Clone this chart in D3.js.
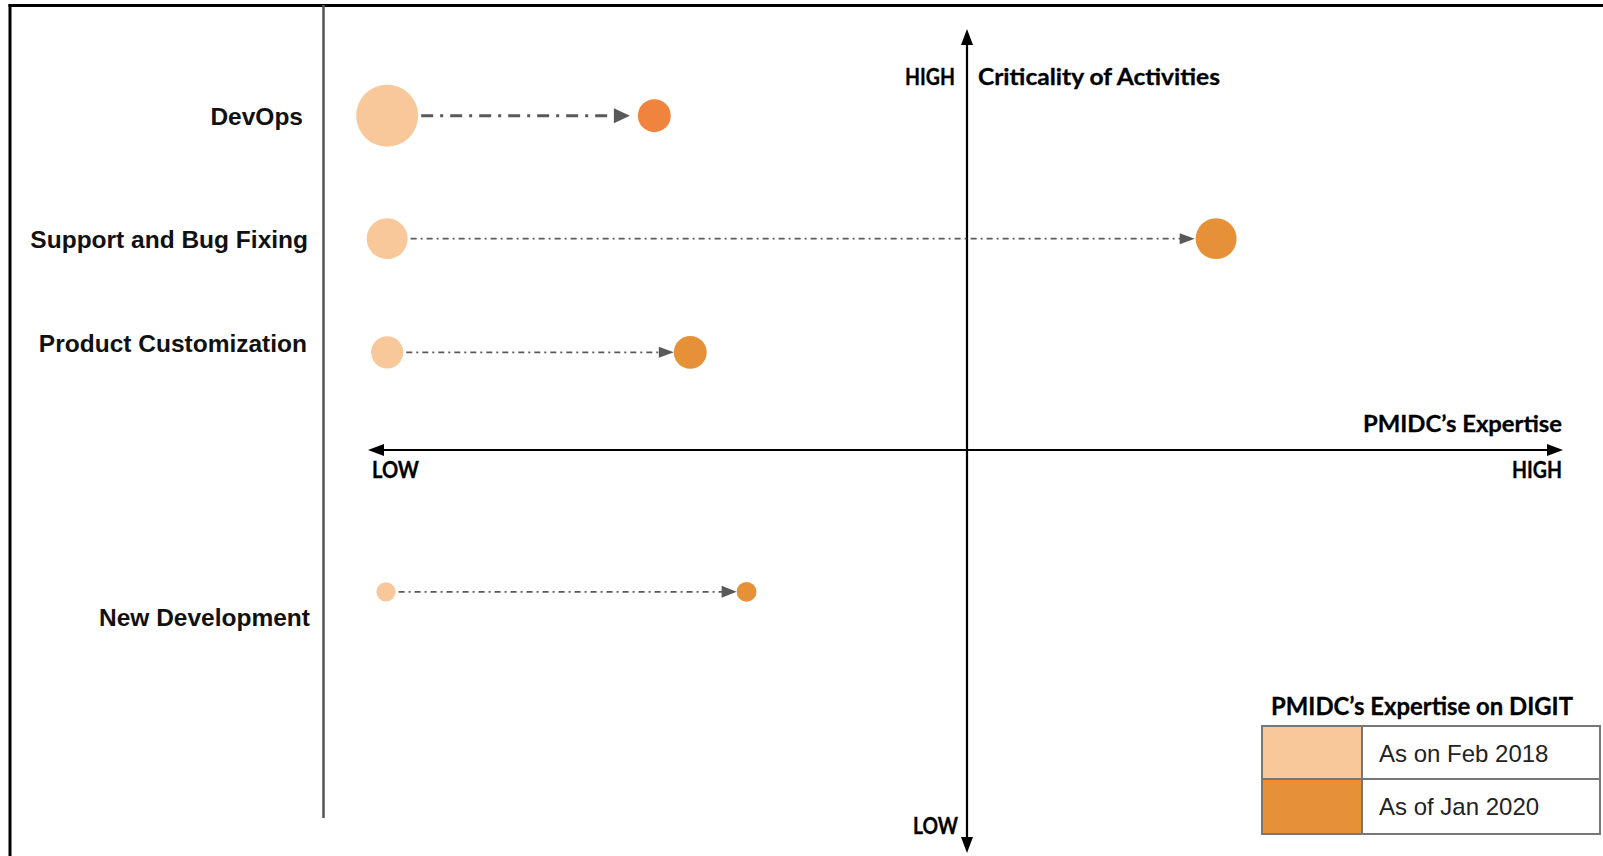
<!DOCTYPE html>
<html><head><meta charset="utf-8">
<script src="https://cdn.jsdelivr.net/npm/d3@7"></script>
<style>html,body{margin:0;padding:0;background:#fff;overflow:hidden}</style>
</head><body>
<svg id="chart" width="1603" height="856"></svg>
<script>
// ---- data ----
const categories = ["DevOps", "Support and Bug Fixing", "Product Customization", "New Development"];
const expertiseFeb2018 = [0.16, 0.16, 0.16, 0.15];
const expertiseJan2020 = [2.39, 7.09, 2.69, 3.16];
const criticality = [8.97, 7.51, 6.16, 3.24];
const sizeFeb2018 = [10, 6.6, 5.2, 3.1];
const sizeJan2020 = [5.3, 6.6, 5.3, 3.2];
const seriesNames = ["As on Feb 2018", "As of Jan 2020"];
const xEndLabels = ["LOW", "HIGH"];
const yEndLabels = ["LOW", "HIGH"];
const xTitle = "PMIDC\u2019s Expertise";
const yTitle = "Criticality of Activities";
const legendTitle = "PMIDC\u2019s Expertise on DIGIT";

// ---- styles / layout ----
const lightColor = "#F8C89A";
const darkColors = ["#F0843F", "#E69138", "#E69138", "#E69138"];
const legendDark = "#E69138";
const labelDy = [9, 9, 0, 34];
const labelRight = [303, 308, 307, 310];
const arrowGapEnd = [8, 1, 0, 0];
const lineWidths = [3, 1.6, 1.6, 1.6];
const dashes = ["12,7,3,7", "6,4,2,4", "6,4,2,4", "6,4,2,4"];
const headLen = [16, 15, 15, 15];
const headHalf = [7.5, 5.5, 5.5, 6];

const svg = d3.select("#chart");
const x = d3.scaleLinear().domain([0, 5, 10]).range([368, 967, 1563]);
const y = d3.scaleLinear().domain([0, 5, 10]).range([853, 450, 29]);
const r = d3.scaleLinear().domain([0, 10]).range([0, 31]);

// frame
svg.append("line").attr("x1", 8.5).attr("x2", 1603).attr("y1", 5.5).attr("y2", 5.5)
  .attr("stroke", "#000").attr("stroke-width", 3);
svg.append("line").attr("x1", 10).attr("x2", 10).attr("y1", 4).attr("y2", 856)
  .attr("stroke", "#000").attr("stroke-width", 3);
// separator
svg.append("line").attr("x1", 323.5).attr("x2", 323.5).attr("y1", 5).attr("y2", 818)
  .attr("stroke", "#555").attr("stroke-width", 2.5);

// axes
const ax = x(5), ay = y(5);
const aLen = 16, aHalf = 6;
const axG = svg.append("g");
axG.append("line").attr("x1", x(0) + aLen - 2).attr("x2", x(10) - aLen + 2).attr("y1", ay).attr("y2", ay)
  .attr("stroke", "#000").attr("stroke-width", 2.2);
axG.append("line").attr("x1", ax).attr("x2", ax).attr("y1", y(10) + aLen - 2).attr("y2", y(0) - aLen + 2)
  .attr("stroke", "#000").attr("stroke-width", 2.2);
const tri = (pts) => axG.append("polygon").attr("points", pts.map(p => p.join(",")).join(" ")).attr("fill", "#000");
tri([[x(0), ay], [x(0) + aLen, ay - aHalf], [x(0) + aLen, ay + aHalf]]);
tri([[x(10), ay], [x(10) - aLen, ay - aHalf], [x(10) - aLen, ay + aHalf]]);
tri([[ax, y(10)], [ax - aHalf, y(10) + aLen], [ax + aHalf, y(10) + aLen]]);
tri([[ax, y(0)], [ax - aHalf, y(0) - aLen], [ax + aHalf, y(0) - aLen]]);

const axisFont = "Lato, 'Open Sans', sans-serif";
function lbl(t, px, py, anchor, size, len) {
  svg.append("text").text(t).attr("x", px).attr("y", py).attr("text-anchor", anchor)
    .attr("font-family", axisFont).attr("font-weight", 700).attr("font-size", size)
    .attr("fill", "#000").attr("stroke", "#000").attr("stroke-width", 0.3)
    .attr("textLength", len).attr("lengthAdjust", "spacingAndGlyphs");
}
lbl(yEndLabels[1], ax - 12, 85, "end", 22, 50);
lbl(yTitle, ax + 11, 85, "start", 22, 242);
lbl(yEndLabels[0], ax - 9, 834, "end", 22, 45);
lbl(xTitle, x(10) - 1, 432, "end", 23, 199);
lbl(xEndLabels[0], x(0) + 4, 478, "start", 22, 47);
lbl(xEndLabels[1], x(10) - 1, 478, "end", 22, 50);

// category labels
svg.append("g").selectAll("text").data(categories).join("text")
  .text(d => d)
  .attr("x", (d, i) => labelRight[i])
  .attr("y", (d, i) => y(criticality[i]) + labelDy[i])
  .attr("text-anchor", "end")
  .attr("font-family", "'Liberation Sans', Arial, sans-serif")
  .attr("font-weight", 700).attr("font-size", 24.5).attr("fill", "#111");

// arrows
const rows = categories.map((c, i) => ({ i, c }));
const arrowG = svg.append("g");
rows.forEach(({ i }) => {
  const cy = y(criticality[i]);
  const x1 = x(expertiseFeb2018[i]) + r(sizeFeb2018[i]) + 3;
  const tip = x(expertiseJan2020[i]) - r(sizeJan2020[i]) - arrowGapEnd[i];
  arrowG.append("line").attr("x1", x1).attr("x2", tip - headLen[i] + 1).attr("y1", cy).attr("y2", cy)
    .attr("stroke", "#595959").attr("stroke-width", lineWidths[i]).attr("stroke-dasharray", dashes[i]);
  arrowG.append("polygon")
    .attr("points", [[tip, cy], [tip - headLen[i], cy - headHalf[i]], [tip - headLen[i], cy + headHalf[i]]].map(p => p.join(",")).join(" "))
    .attr("fill", "#595959");
});

// bubbles
svg.append("g").selectAll("circle").data(rows).join("circle")
  .attr("cx", d => x(expertiseFeb2018[d.i])).attr("cy", d => y(criticality[d.i]))
  .attr("r", d => r(sizeFeb2018[d.i])).attr("fill", lightColor);
svg.append("g").selectAll("circle").data(rows).join("circle")
  .attr("cx", d => x(expertiseJan2020[d.i])).attr("cy", d => y(criticality[d.i]))
  .attr("r", d => r(sizeJan2020[d.i])).attr("fill", d => darkColors[d.i]);

// legend
const lg = svg.append("g");
lbl(legendTitle, 1271, 715, "start", 24, 302);
const lx0 = 1262, lx1 = 1362, lx2 = 1600, ly0 = 726, ly1 = 779, ly2 = 834;
lg.append("rect").attr("x", lx0).attr("y", ly0).attr("width", lx1 - lx0).attr("height", ly1 - ly0).attr("fill", lightColor);
lg.append("rect").attr("x", lx0).attr("y", ly1).attr("width", lx1 - lx0).attr("height", ly2 - ly1).attr("fill", legendDark);
lg.append("rect").attr("x", lx0).attr("y", ly0).attr("width", lx2 - lx0).attr("height", ly2 - ly0)
  .attr("fill", "none").attr("stroke", "#777").attr("stroke-width", 2);
lg.append("line").attr("x1", lx0).attr("x2", lx2).attr("y1", ly1).attr("y2", ly1).attr("stroke", "#777").attr("stroke-width", 2);
lg.append("line").attr("x1", lx1).attr("x2", lx1).attr("y1", ly0).attr("y2", ly2).attr("stroke", "#777").attr("stroke-width", 2);
lg.selectAll("text.item").data(seriesNames).join("text").attr("class", "item")
  .text(d => d).attr("x", 1379).attr("y", (d, i) => i === 0 ? 762 : 815)
  .attr("font-family", "'Liberation Sans', Arial, sans-serif").attr("font-size", 24).attr("fill", "#222");
</script>
</body></html>
